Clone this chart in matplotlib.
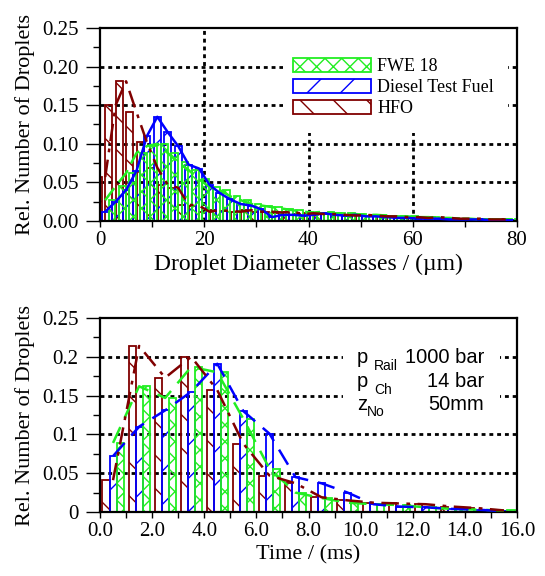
import matplotlib
matplotlib.use('Agg')
import matplotlib.pyplot as plt
from matplotlib.patches import Rectangle, Patch
from matplotlib.ticker import MultipleLocator, FuncFormatter

# ---------------- data ----------------
# droplet diameter classes (2 µm classes, class centres in µm)
diam_centers = list(range(1, 80, 2))
hfo_diam = [0.057, 0.150, 0.181, 0.141, 0.102, 0.069, 0.047, 0.043, 0.021, 0.020,
            0.012, 0.014, 0.013, 0.012, 0.014, 0.012, 0.012, 0.011, 0.012, 0.009,
            0.010, 0.009, 0.009, 0.008, 0.007, 0.008, 0.007, 0.006, 0.006, 0.005,
            0.005, 0.004, 0.005, 0.004, 0.003, 0.003, 0.003, 0.002, 0.002, 0.002]
diesel_diam = [0.012, 0.025, 0.040, 0.065, 0.110, 0.135, 0.115, 0.097, 0.073, 0.068,
               0.047, 0.036, 0.028, 0.022, 0.020, 0.015, 0.005, 0.008, 0.008, 0.007,
               0.008, 0.010, 0.008, 0.007, 0.008, 0.006, 0.006, 0.005, 0.004, 0.004,
               0.003, 0.003, 0.003, 0.002, 0.002, 0.002, 0.002, 0.001, 0.001, 0.001]
fwe_diam = [0.027, 0.045, 0.062, 0.088, 0.097, 0.100, 0.088, 0.076, 0.066, 0.054,
            0.044, 0.040, 0.032, 0.027, 0.022, 0.020, 0.018, 0.016, 0.014, 0.012,
            0.011, 0.012, 0.010, 0.010, 0.009, 0.008, 0.008, 0.007, 0.006, 0.006,
            0.005, 0.005, 0.004, 0.004, 0.003, 0.003, 0.002, 0.002, 0.002, 0.002]

# time classes (1 ms classes, class centres in ms)
time_centers = [0.5, 1.5, 2.5, 3.5, 4.5, 5.5, 6.5, 7.5, 8.5, 9.5, 10.5, 11.5, 12.5, 13.5, 14.5, 15.5]
hfo_time = [0.041, 0.214, 0.173, 0.200, 0.157, 0.088, 0.047, 0.037, 0.019, 0.015,
            0.012, 0.011, 0.010, 0.007, 0.005, 0.002]
diesel_time = [0.072, 0.110, 0.131, 0.155, 0.191, 0.130, 0.101, 0.045, 0.037, 0.025,
               0.010, 0.007, 0.006, 0.004, 0.003, 0.001]
fwe_time = [0.089, 0.162, 0.147, 0.187, 0.180, 0.120, 0.056, 0.025, 0.018, 0.012,
            0.010, 0.009, 0.006, 0.004, 0.003, 0.002]

series_names = ['FWE 18', 'Diesel Test Fuel', 'HFO']
x_ticks_top = [0, 20, 40, 60, 80]
x_ticks_bottom = [0, 2, 4, 6, 8, 10, 12, 14, 16]
y_ticks = [0, 0.05, 0.10, 0.15, 0.20, 0.25]

# ---------------- style ----------------
GREEN = '#22ee22'
BLUE = '#0000ff'
RED = '#800000'

plt.rcParams['font.family'] = ['Liberation Serif', 'DejaVu Serif']
plt.rcParams['hatch.linewidth'] = 1.0
FS = 15

fig = plt.figure(figsize=(5.45, 5.76), dpi=100)
ax1 = fig.add_axes([100/545, 1-221/576, 417/545, 193/576])
ax2 = fig.add_axes([100/545, 1-512/576, 417/545, 194/576])

grid_kw = dict(color='black', linestyle=(0, (1.4, 1.4)), linewidth=2.0, zorder=0.5)

def style_axes(ax):
    for s in ax.spines.values():
        s.set_linewidth(1.6)
    ax.tick_params(which='both', direction='out', width=1.0, labelsize=FS,
                   top=False, right=False)
    ax.tick_params(axis='y', which='major', length=10, pad=5.5)
    ax.tick_params(axis='y', which='minor', length=5)
    ax.tick_params(axis='x', which='major', length=4.5, pad=2.5)
    ax.tick_params(axis='x', which='minor', length=4.5)

def inner_hgrid(ax, ticks, lo, hi):
    for t in ticks:
        if lo < t < hi:
            ax.axhline(t, **grid_kw)

def inner_vgrid(ax, ticks, lo, hi):
    for t in ticks:
        if lo < t < hi:
            ax.axvline(t, **grid_kw)

def shift(xs, d):
    return [x + d for x in xs]

# ---------------- top: diameter classes ----------------
w1 = 1.3
ax1.bar(shift(diam_centers, -w1), hfo_diam, width=w1, fill=False, edgecolor=RED,
        hatch='\\', linewidth=1.3, zorder=2)
ax1.bar(diam_centers, diesel_diam, width=w1, fill=False, edgecolor=BLUE,
        hatch='/', linewidth=1.3, zorder=2)
ax1.bar(shift(diam_centers, w1), fwe_diam, width=w1, fill=False, edgecolor=GREEN,
        hatch='xx', linewidth=1.3, zorder=2)
ax1.plot(diam_centers, fwe_diam, color=GREEN, lw=1.8, linestyle=(0, (6, 3)), zorder=3)
ax1.plot(diam_centers, diesel_diam, color=BLUE, lw=1.8, linestyle='-', zorder=3)
ax1.plot(diam_centers, hfo_diam, color=RED, lw=1.8, linestyle=(0, (7, 3, 1.5, 3)), zorder=3)

ax1.set_xlim(0, 80)
ax1.set_ylim(0, 0.25)
ax1.set_xticks(x_ticks_top)
ax1.set_yticks(y_ticks)
ax1.xaxis.set_minor_locator(MultipleLocator(10))
ax1.yaxis.set_minor_locator(MultipleLocator(0.025))
ax1.yaxis.set_major_formatter(FuncFormatter(lambda v, p: '%.2f' % v))
inner_hgrid(ax1, y_ticks, 0, 0.25)
inner_vgrid(ax1, x_ticks_top, 0, 80)
style_axes(ax1)
ax1.set_xlabel('Droplet Diameter Classes / (µm)', fontsize=FS + 2, labelpad=3)
ax1.set_ylabel('Rel. Number of Droplets', fontsize=FS + 1, labelpad=5)

ax1.add_patch(Rectangle((0.439, 0.456), 0.54, 0.544, transform=ax1.transAxes,
                        facecolor='white', edgecolor='none', zorder=1.5))
handles = [Patch(facecolor='white', edgecolor=GREEN, hatch='xx', linewidth=1.3),
           Patch(facecolor='white', edgecolor=BLUE, hatch='/', linewidth=1.3),
           Patch(facecolor='white', edgecolor=RED, hatch='\\', linewidth=1.3)]
ax1.legend(handles, series_names, loc='upper left', bbox_to_anchor=(0.463, 0.845),
           frameon=False, fontsize=13, handlelength=4.3, handleheight=0.8,
           handletextpad=0.35, labelspacing=0.22, borderpad=0, borderaxespad=0)

# ---------------- bottom: time classes ----------------
w2 = 0.27
ax2.bar(shift(time_centers, -w2), hfo_time, width=w2, fill=False, edgecolor=RED,
        hatch='\\', linewidth=1.3, zorder=2)
ax2.bar(time_centers, diesel_time, width=w2, fill=False, edgecolor=BLUE,
        hatch='/', linewidth=1.3, zorder=2)
ax2.bar(shift(time_centers, w2), fwe_time, width=w2, fill=False, edgecolor=GREEN,
        hatch='xx', linewidth=1.3, zorder=2)
ax2.plot(time_centers, fwe_time, color=GREEN, lw=1.8, linestyle=(0, (7, 4)), zorder=3)
ax2.plot(time_centers, diesel_time, color=BLUE, lw=1.8, linestyle=(0, (7, 4)), zorder=3)
ax2.plot(time_centers, hfo_time, color=RED, lw=1.8, linestyle=(0, (7, 3, 1.5, 3)), zorder=3)

ax2.set_xlim(0, 16)
ax2.set_ylim(0, 0.25)
ax2.set_xticks(x_ticks_bottom)
ax2.set_yticks(y_ticks)
ax2.xaxis.set_minor_locator(MultipleLocator(1))
ax2.xaxis.set_major_formatter(FuncFormatter(lambda v, p: '%.1f' % v))
ax2.yaxis.set_minor_locator(MultipleLocator(0.025))
ax2.yaxis.set_major_formatter(FuncFormatter(lambda v, p: '%g' % round(v, 3)))
inner_hgrid(ax2, y_ticks, 0, 0.25)
style_axes(ax2)
ax2.set_xlabel('Time / (ms)', fontsize=FS + 1, labelpad=3)
ax2.set_ylabel('Rel. Number of Droplets', fontsize=FS + 1, labelpad=5)

ax2.add_patch(Rectangle((0.583, 0.448), 0.376, 0.464, transform=ax2.transAxes,
                        facecolor='white', edgecolor='none', zorder=1.5))

# annotation block (sans serif)
def ftxt(px, py, s, size, ha='left'):
    fig.text(px / 545, 1 - py / 576, s, fontsize=size, ha=ha, va='baseline',
             family=['Liberation Sans', 'DejaVu Sans'], zorder=6)

ftxt(357, 363, 'p', 14.5)
ftxt(374, 370, 'Rail', 10)
ftxt(484, 363, '1000 bar', 14.5, ha='right')
ftxt(357, 387, 'p', 14.5)
ftxt(374, 394, 'Ch', 10)
ftxt(484, 387, '14 bar', 14.5, ha='right')
ftxt(357, 410, 'z', 14.5)
ftxt(367, 416, 'No', 10)
ftxt(484, 410, '50mm', 14.5, ha='right')

fig.savefig('out.png', dpi=100)
